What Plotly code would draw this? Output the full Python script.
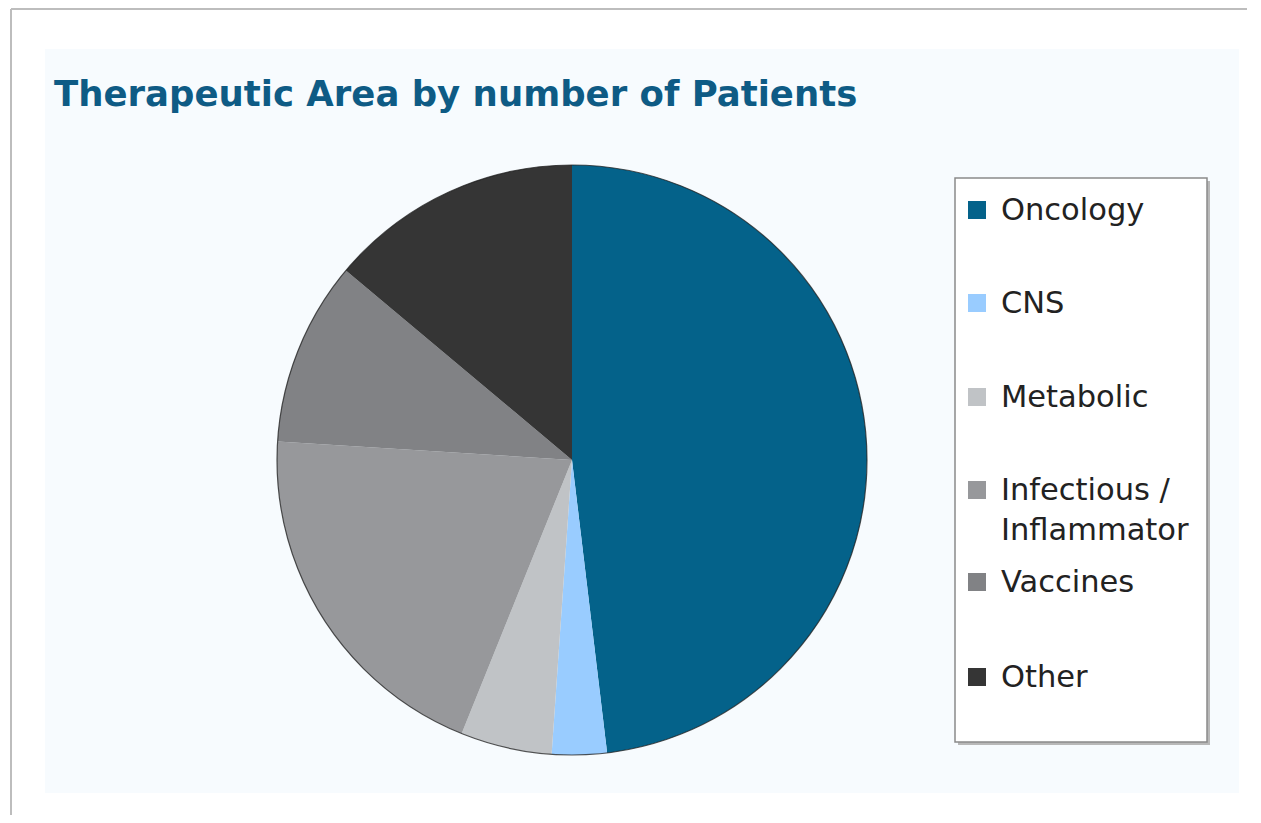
import plotly.graph_objects as go

# ---- data ----
labels = ["Oncology", "CNS", "Metabolic", "Infectious / Inflammator", "Vaccines", "Other"]
values = [48.1, 3.0, 5.0, 19.9, 10.1, 13.9]
colors = ["#04628A", "#99CCFF", "#C0C3C6", "#97989B", "#818285", "#353535"]
title_text = "Therapeutic Area by number of Patients"

W, H = 1245, 807   # fits inside the window after the 8px page margin (no scrollbars)
OFF = 8  # page body margin compensation


def px(x):
    return (x - OFF) / W


def py(y):
    return 1 - (y - OFF) / H


# pie geometry (pixels)
cx, cy, r = 572, 460, 295

fig = go.Figure(
    go.Pie(
        labels=labels,
        values=values,
        marker=dict(colors=colors, line=dict(width=0)),
        sort=False,
        direction="clockwise",
        rotation=0,
        textinfo="none",
        hoverinfo="label+percent",
        showlegend=False,
        domain=dict(x=[px(cx - r), px(cx + r)], y=[py(cy + r), py(cy - r)]),
    )
)

shapes = [
    # outer page frame (top and left edges only)
    dict(type="line", xref="paper", yref="paper", x0=px(11), x1=px(1247), y0=py(9), y1=py(9),
         line=dict(color="#BDBDBD", width=2), layer="below"),
    dict(type="line", xref="paper", yref="paper", x0=px(11), x1=px(11), y0=py(9), y1=0,
         line=dict(color="#BDBDBD", width=2), layer="below"),
    # light panel
    dict(type="rect", xref="paper", yref="paper", x0=px(45), x1=px(1239), y0=py(49), y1=py(793),
         line=dict(width=0), fillcolor="#F7FBFE", layer="below"),
    # pie outline
    dict(type="circle", xref="paper", yref="paper", x0=px(cx - r), x1=px(cx + r), y0=py(cy + r), y1=py(cy - r),
         line=dict(color="rgba(30,30,30,0.75)", width=1.2), layer="above"),
    # legend shadow + box
    dict(type="rect", xref="paper", yref="paper", x0=px(958), x1=px(1210), y0=py(181), y1=py(745),
         line=dict(width=0), fillcolor="#B8B8B8", layer="above"),
    dict(type="rect", xref="paper", yref="paper", x0=px(955), x1=px(1207), y0=py(178), y1=py(742),
         line=dict(color="#8A8A8A", width=1.5), fillcolor="white", layer="above"),
]

annotations = []
legend_y = [210, 303, 397, 490, 582, 677]
for lab, col, ly in zip(labels, colors, legend_y):
    shapes.append(dict(type="rect", xref="paper", yref="paper", x0=px(968), x1=px(986),
                       y0=py(ly + 9), y1=py(ly - 9), line=dict(width=0), fillcolor=col, layer="above"))
    text = lab.replace(" / ", " /<br>")
    annotations.append(dict(
        text=text, xref="paper", yref="paper", x=px(999), y=py(ly - 20),
        xanchor="left", yanchor="top", align="left", showarrow=False,
        font=dict(family="DejaVu Sans", size=30.5, color="#222222"),
    ))

annotations.append(dict(
    text="<b>" + title_text + "</b>", xref="paper", yref="paper", x=px(52), y=py(93),
    xanchor="left", yanchor="middle", showarrow=False,
    font=dict(family="DejaVu Sans", size=35.5, color="#0E5B85"),
))

fig.update_layout(
    width=W, height=H,
    margin=dict(l=0, r=0, t=0, b=0),
    paper_bgcolor="white",
    plot_bgcolor="white",
    shapes=shapes,
    annotations=annotations,
)

fig.write_html("out.html")
